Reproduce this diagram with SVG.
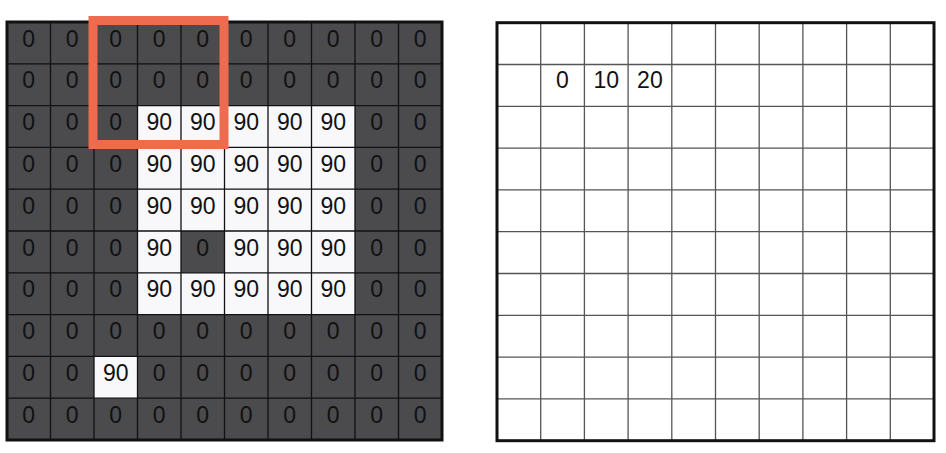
<svg xmlns="http://www.w3.org/2000/svg" width="946" height="453" viewBox="0 0 946 453">
<style>
.t{font-family:"Liberation Sans",Arial,sans-serif;font-size:23px;fill:#111;text-anchor:middle}
.t2{font-family:"Liberation Sans",Arial,sans-serif;font-size:23px;fill:#111;text-anchor:middle}
.dk{fill:#4b4a4d}
.wh{fill:#f8f7fa}
.gl{fill:none;stroke:#111;stroke-width:1.3}
.gr{fill:none;stroke:#555;stroke-width:1.3}
.bd{fill:none;stroke:#111;stroke-width:3}
</style>
<rect width="946" height="453" fill="#ffffff"/>
<g id="input-grid">
<rect class="dk" x="7" y="22" width="435" height="418"/>
<rect class="wh" x="137.5" y="105.6" width="217.5" height="209"/>
<rect class="dk" x="181" y="231" width="43.5" height="41.8"/>
<rect class="wh" x="94" y="356.4" width="43.5" height="41.8"/>
<path class="gl" d="M50.5 22V440M94 22V440M137.5 22V440M181 22V440M224.5 22V440M268 22V440M311.5 22V440M355 22V440M398.5 22V440M7 63.8H442M7 105.6H442M7 147.4H442M7 189.2H442M7 231H442M7 272.8H442M7 314.6H442M7 356.4H442M7 398.2H442"/>
<rect class="bd" x="7" y="22" width="435" height="418"/>
<g id="input-values">
<text class="t" x="28.75" y="46.5">0</text><text class="t" x="72.25" y="46.5">0</text><text class="t" x="115.75" y="46.5">0</text><text class="t" x="159.25" y="46.5">0</text><text class="t" x="202.75" y="46.5">0</text><text class="t" x="246.25" y="46.5">0</text><text class="t" x="289.75" y="46.5">0</text><text class="t" x="333.25" y="46.5">0</text><text class="t" x="376.75" y="46.5">0</text><text class="t" x="420.25" y="46.5">0</text>
<text class="t" x="28.75" y="88.3">0</text><text class="t" x="72.25" y="88.3">0</text><text class="t" x="115.75" y="88.3">0</text><text class="t" x="159.25" y="88.3">0</text><text class="t" x="202.75" y="88.3">0</text><text class="t" x="246.25" y="88.3">0</text><text class="t" x="289.75" y="88.3">0</text><text class="t" x="333.25" y="88.3">0</text><text class="t" x="376.75" y="88.3">0</text><text class="t" x="420.25" y="88.3">0</text>
<text class="t" x="28.75" y="130.1">0</text><text class="t" x="72.25" y="130.1">0</text><text class="t" x="115.75" y="130.1">0</text><text class="t" x="159.25" y="130.1">90</text><text class="t" x="202.75" y="130.1">90</text><text class="t" x="246.25" y="130.1">90</text><text class="t" x="289.75" y="130.1">90</text><text class="t" x="333.25" y="130.1">90</text><text class="t" x="376.75" y="130.1">0</text><text class="t" x="420.25" y="130.1">0</text>
<text class="t" x="28.75" y="171.9">0</text><text class="t" x="72.25" y="171.9">0</text><text class="t" x="115.75" y="171.9">0</text><text class="t" x="159.25" y="171.9">90</text><text class="t" x="202.75" y="171.9">90</text><text class="t" x="246.25" y="171.9">90</text><text class="t" x="289.75" y="171.9">90</text><text class="t" x="333.25" y="171.9">90</text><text class="t" x="376.75" y="171.9">0</text><text class="t" x="420.25" y="171.9">0</text>
<text class="t" x="28.75" y="213.7">0</text><text class="t" x="72.25" y="213.7">0</text><text class="t" x="115.75" y="213.7">0</text><text class="t" x="159.25" y="213.7">90</text><text class="t" x="202.75" y="213.7">90</text><text class="t" x="246.25" y="213.7">90</text><text class="t" x="289.75" y="213.7">90</text><text class="t" x="333.25" y="213.7">90</text><text class="t" x="376.75" y="213.7">0</text><text class="t" x="420.25" y="213.7">0</text>
<text class="t" x="28.75" y="255.5">0</text><text class="t" x="72.25" y="255.5">0</text><text class="t" x="115.75" y="255.5">0</text><text class="t" x="159.25" y="255.5">90</text><text class="t" x="202.75" y="255.5">0</text><text class="t" x="246.25" y="255.5">90</text><text class="t" x="289.75" y="255.5">90</text><text class="t" x="333.25" y="255.5">90</text><text class="t" x="376.75" y="255.5">0</text><text class="t" x="420.25" y="255.5">0</text>
<text class="t" x="28.75" y="297.3">0</text><text class="t" x="72.25" y="297.3">0</text><text class="t" x="115.75" y="297.3">0</text><text class="t" x="159.25" y="297.3">90</text><text class="t" x="202.75" y="297.3">90</text><text class="t" x="246.25" y="297.3">90</text><text class="t" x="289.75" y="297.3">90</text><text class="t" x="333.25" y="297.3">90</text><text class="t" x="376.75" y="297.3">0</text><text class="t" x="420.25" y="297.3">0</text>
<text class="t" x="28.75" y="339.1">0</text><text class="t" x="72.25" y="339.1">0</text><text class="t" x="115.75" y="339.1">0</text><text class="t" x="159.25" y="339.1">0</text><text class="t" x="202.75" y="339.1">0</text><text class="t" x="246.25" y="339.1">0</text><text class="t" x="289.75" y="339.1">0</text><text class="t" x="333.25" y="339.1">0</text><text class="t" x="376.75" y="339.1">0</text><text class="t" x="420.25" y="339.1">0</text>
<text class="t" x="28.75" y="380.9">0</text><text class="t" x="72.25" y="380.9">0</text><text class="t" x="115.75" y="380.9">90</text><text class="t" x="159.25" y="380.9">0</text><text class="t" x="202.75" y="380.9">0</text><text class="t" x="246.25" y="380.9">0</text><text class="t" x="289.75" y="380.9">0</text><text class="t" x="333.25" y="380.9">0</text><text class="t" x="376.75" y="380.9">0</text><text class="t" x="420.25" y="380.9">0</text>
<text class="t" x="28.75" y="422.7">0</text><text class="t" x="72.25" y="422.7">0</text><text class="t" x="115.75" y="422.7">0</text><text class="t" x="159.25" y="422.7">0</text><text class="t" x="202.75" y="422.7">0</text><text class="t" x="246.25" y="422.7">0</text><text class="t" x="289.75" y="422.7">0</text><text class="t" x="333.25" y="422.7">0</text><text class="t" x="376.75" y="422.7">0</text><text class="t" x="420.25" y="422.7">0</text>
</g>
</g>
<g id="filter-window">
<rect x="93" y="20.5" width="131" height="124" fill="none" stroke="#ef6b50" stroke-width="9"/>
</g>
<g id="output-grid">
<rect x="497" y="22.7" width="437" height="418" fill="#ffffff"/>
<path class="gr" d="M540.7 22.7V440.7M584.4 22.7V440.7M628.1 22.7V440.7M671.8 22.7V440.7M715.5 22.7V440.7M759.2 22.7V440.7M802.9 22.7V440.7M846.6 22.7V440.7M890.3 22.7V440.7M497 64.5H934M497 106.3H934M497 148.1H934M497 189.9H934M497 231.7H934M497 273.5H934M497 315.3H934M497 357.1H934M497 398.9H934"/>
<rect class="bd" x="497" y="22.7" width="437" height="418"/>
<g id="output-values">
<text class="t2" x="562.5" y="88">0</text>
<text class="t2" x="606.2" y="88">10</text>
<text class="t2" x="649.9" y="88">20</text>
</g>
</g>
</svg>
